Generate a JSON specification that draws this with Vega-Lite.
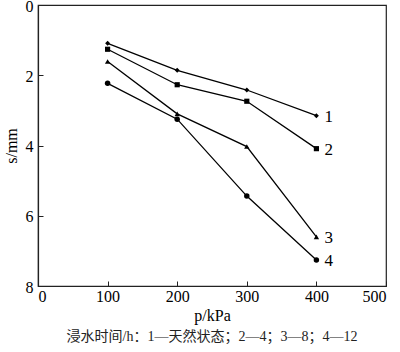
{
  "$schema": "https://vega.github.io/schema/vega-lite/v6.json",
  "width": 348,
  "height": 281,
  "autosize": {"type": "none"},
  "padding": {"left": 38, "top": 5, "right": 14, "bottom": 66},
  "background": "white",
  "config": {
    "font": "Liberation Serif, Noto Sans CJK SC",
    "view": {"stroke": "#222", "strokeWidth": 1.2},
    "axis": {
      "domainColor": "#222",
      "domainWidth": 1.2,
      "tickColor": "#222",
      "tickSize": -5,
      "grid": false,
      "labelFont": "Liberation Serif",
      "labelFontSize": 16,
      "labelColor": "black",
      "titleFont": "Liberation Serif",
      "titleFontSize": 16,
      "titleFontWeight": "normal",
      "titleColor": "black"
    }
  },
  "title": {
    "text": "浸水时间/h：1—天然状态；2—4；3—8；4—12",
    "orient": "bottom",
    "anchor": "middle",
    "offset": 7,
    "font": "Liberation Serif, Noto Sans CJK SC",
    "fontSize": 14,
    "fontWeight": "normal",
    "color": "#222"
  },
  "data": {
    "values": [
      {"p": 100, "s": 1.09, "series": "1"},
      {"p": 200, "s": 1.86, "series": "1"},
      {"p": 300, "s": 2.42, "series": "1"},
      {"p": 400, "s": 3.15, "series": "1"},
      {"p": 100, "s": 1.26, "series": "2"},
      {"p": 200, "s": 2.27, "series": "2"},
      {"p": 300, "s": 2.74, "series": "2"},
      {"p": 400, "s": 4.09, "series": "2"},
      {"p": 100, "s": 1.61, "series": "3"},
      {"p": 200, "s": 3.1, "series": "3"},
      {"p": 300, "s": 4.03, "series": "3"},
      {"p": 400, "s": 6.6, "series": "3"},
      {"p": 100, "s": 2.23, "series": "4"},
      {"p": 200, "s": 3.25, "series": "4"},
      {"p": 300, "s": 5.44, "series": "4"},
      {"p": 400, "s": 7.26, "series": "4"}
    ]
  },
  "encoding": {
    "x": {
      "field": "p",
      "type": "quantitative",
      "scale": {"domain": [0, 500], "nice": false},
      "axis": {"values": [0, 100, 200, 300, 400, 500], "title": "p/kPa", "labelPadding": 7, "titlePadding": 3}
    },
    "y": {
      "field": "s",
      "type": "quantitative",
      "scale": {"domain": [0, 8], "reverse": true, "nice": false},
      "axis": {"values": [0, 2, 4, 6, 8], "title": "s/mm", "labelPadding": 10, "labelOffset": 1, "titlePadding": 6}
    }
  },
  "layer": [
    {
      "mark": {"type": "line", "color": "black", "strokeWidth": 1.3},
      "encoding": {"detail": {"field": "series"}}
    },
    {
      "mark": {"type": "point", "filled": true, "color": "black", "opacity": 1},
      "encoding": {
        "shape": {
          "field": "series",
          "type": "nominal",
          "scale": {"domain": ["1", "2", "3", "4"], "range": ["diamond", "square", "triangle-up", "circle"]},
          "legend": null
        },
        "size": {
          "field": "series",
          "type": "nominal",
          "scale": {"domain": ["1", "2", "3", "4"], "range": [25, 30, 35, 35]},
          "legend": null
        }
      }
    },
    {
      "transform": [{"filter": "datum.p == 400"}],
      "mark": {"type": "text", "align": "left", "dx": 8, "dy": 1, "fontSize": 17, "font": "Liberation Serif", "color": "black"},
      "encoding": {"text": {"field": "series"}}
    }
  ]
}
